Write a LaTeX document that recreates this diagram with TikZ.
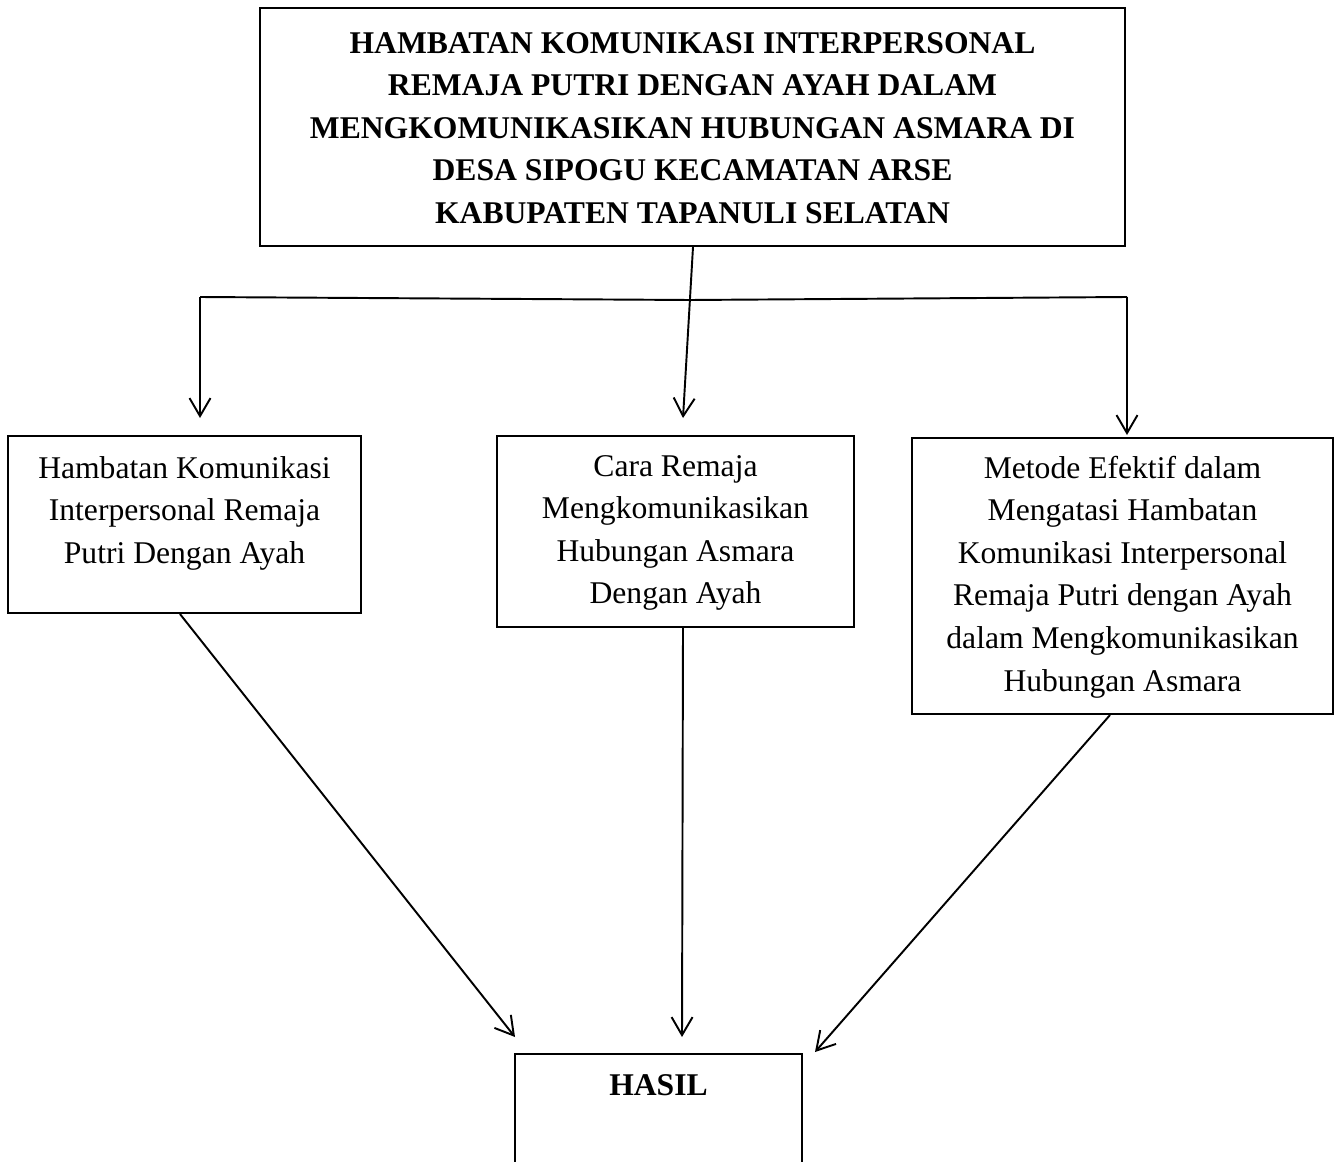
\documentclass[tikz,border=0pt]{standalone}
\usepackage{fontspec}
\setmainfont{Liberation Serif}
\usetikzlibrary{arrows.meta}
\begin{document}
\begin{tikzpicture}[x=0.02cm,y=-0.02cm,
  box/.style={draw, line width=1.2pt, inner sep=0pt},
  lbl/.style={align=center, font=\fontsize{18}{24.2}\selectfont, inner sep=0pt},
  conn/.style={line width=1.1pt},
  arr/.style={conn, -{Straight Barb[length=0.36cm,width=0.42cm,line width=1.1pt]}}]
\useasboundingbox (0,0) rectangle (1338,1162);
\clip (0,0) rectangle (1338,1162);
% boxes
\node[box, minimum width=17.3cm, minimum height=4.76cm] (top) at (692.5,127) {};
\node[box, minimum width=7.06cm, minimum height=3.54cm] (b1) at (184.5,524.5) {};
\node[box, minimum width=7.14cm, minimum height=3.82cm] (b2) at (675.5,531.5) {};
\node[box, minimum width=8.42cm, minimum height=5.52cm] (b3) at (1122.5,576) {};
\node[box, minimum width=5.74cm, minimum height=3cm, anchor=north] (hasil) at (658.5,1053) {};
% labels
\node[lbl, font=\bfseries\fontsize{18}{24.2}\selectfont] (ttop) at (692.5,128) {HAMBATAN KOMUNIKASI INTERPERSONAL\\REMAJA PUTRI DENGAN AYAH DALAM\\MENGKOMUNIKASIKAN HUBUNGAN ASMARA DI\\DESA SIPOGU KECAMATAN ARSE\\KABUPATEN TAPANULI SELATAN};
\node[lbl] (t1) at (184.5,513) {Hambatan Komunikasi\\Interpersonal Remaja\\Putri Dengan Ayah};
\node[lbl] (t2) at (675.5,533) {Cara Remaja\\Mengkomunikasikan\\Hubungan Asmara\\Dengan Ayah};
\node[lbl] (t3) at (1122.5,577) {Metode Efektif dalam\\Mengatasi Hambatan\\Komunikasi Interpersonal\\Remaja Putri dengan Ayah\\dalam Mengkomunikasikan\\Hubungan Asmara};
\node[lbl, font=\bfseries\fontsize{18}{24.2}\selectfont] (thasil) at (658.5,1085) {HASIL};
% junction coordinates
\coordinate (jl) at (200,297);
\coordinate (jm) at (690,300);
\coordinate (jr) at (1127,297);
\coordinate (tipm) at (683,418);
\coordinate (tipl) at (200,418);
\coordinate (tipr) at (1127,435);
\coordinate (h1) at (515,1037);
\coordinate (h2) at (682,1037);
\coordinate (h3) at (815,1052);
% connectors
\draw[conn] (jl) -- (jm) -- (jr);
\draw[arr] ([xshift=0.01cm]top.south) -- (tipm);
\draw[arr] (jl) -- (tipl);
\draw[arr] (jr) -- (tipr);
\draw[arr] ([xshift=-0.09cm]b1.south) -- (h1);
\draw[arr] ([xshift=0.15cm]b2.south) -- (h2);
\draw[arr] ([xshift=-0.25cm]b3.south) -- (h3);
\end{tikzpicture}
\end{document}
